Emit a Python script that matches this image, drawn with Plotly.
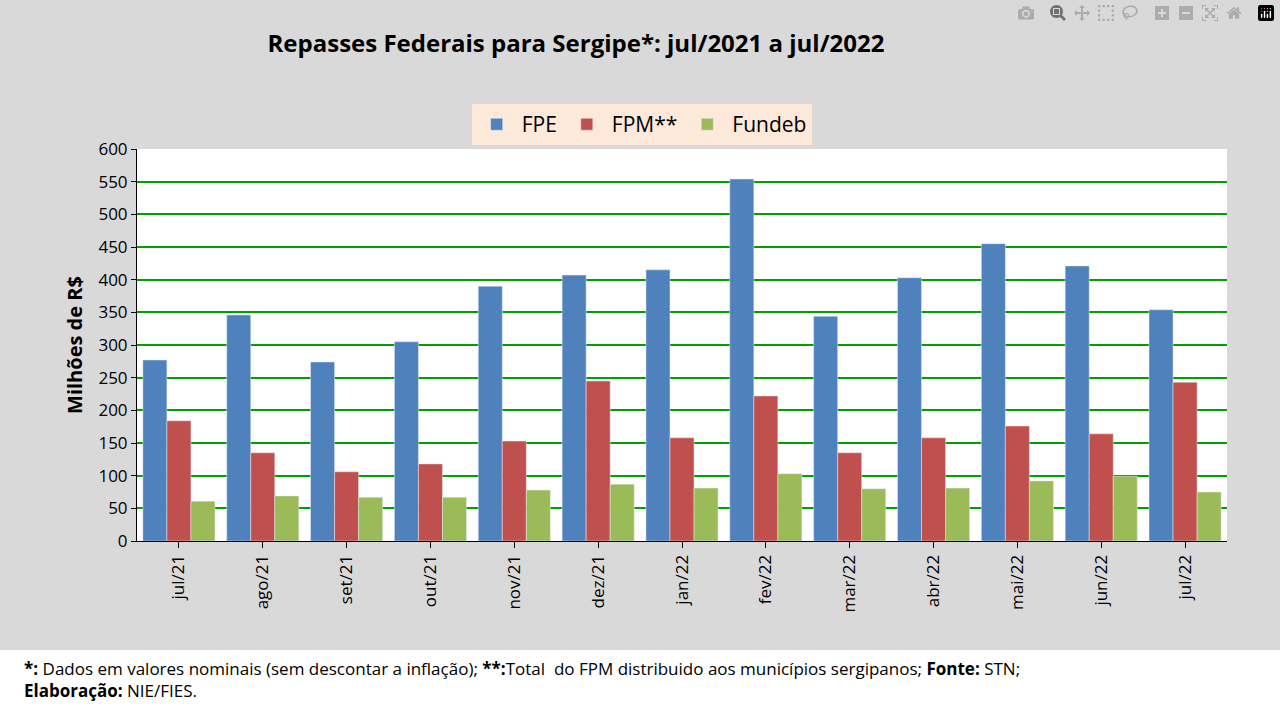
import plotly.graph_objects as go

meses = ["jul/21", "ago/21", "set/21", "out/21", "nov/21", "dez/21", "jan/22",
         "fev/22", "mar/22", "abr/22", "mai/22", "jun/22", "jul/22"]
fpe = [277, 346, 274, 305, 390, 407, 415, 554, 344, 403, 455, 421, 354]
fpm = [184, 135, 106, 118, 153, 245, 158, 222, 135, 158, 176, 164, 243]
fundeb = [61, 69, 67, 67, 78, 87, 81, 103, 80, 81, 92, 99, 75]

fonte = "Open Sans"

fig = go.Figure()
fig.add_trace(go.Bar(x=meses, y=fpe, name="FPE", marker_color="#4f81bd"))
fig.add_trace(go.Bar(x=meses, y=fpm, name="FPM**", marker_color="#c0504d"))
fig.add_trace(go.Bar(x=meses, y=fundeb, name="Fundeb", marker_color="#9bbb59"))

fig.update_layout(
    width=1280, height=720,
    paper_bgcolor="#d9d9d9", plot_bgcolor="white",
    margin=dict(l=137, r=53, t=149, b=179),
    barmode="group", bargap=0.14, bargroupgap=0,
    font=dict(family=fonte, size=17, color="black"),
    title=dict(text="<b>Repasses Federais para Sergipe*: jul/2021 a jul/2022</b>",
               x=0.45, xanchor="center", y=0.94, yanchor="middle",
               font=dict(size=24)),
    legend=dict(orientation="h", x=0.463, xanchor="center", y=1.01, yanchor="bottom",
                bgcolor="#fde9d9", font=dict(size=21), itemwidth=40),
    xaxis=dict(tickangle=-90, showline=True, linecolor="black", ticks="outside",
               ticklen=6, tickcolor="black", tickfont=dict(size=17)),
    yaxis=dict(range=[0, 600], dtick=50, gridcolor="#00a000", gridwidth=2,
               showline=True, linecolor="black", ticks="outside", tickcolor="black",
               title=dict(text="<b>Milhões de R$</b>", font=dict(size=20), standoff=10),
               tickfont=dict(size=17)),
)

fig.add_shape(type="rect", xref="paper", yref="paper",
              x0=-137/1090, x1=1 + 53/1090, y0=-179/392, y1=-(650 - 541) / 392,
              fillcolor="white", line_width=0, layer="below")
fig.add_annotation(
    xref="paper", yref="paper", x=-115/1090, y=-(655 - 541) / 392,
    xanchor="left", yanchor="top", align="left", showarrow=False,
    font=dict(size=17),
    text=("<b>*:</b> Dados em valores nominais (sem descontar a inflação); <b>**:</b>Total  do FPM "
          "distribuido aos municípios sergipanos; <b>Fonte:</b> STN;<br><b>Elaboração:</b> NIE/FIES."),
)

fig.write_html("out.html", post_script="document.body.style.margin='0';")
